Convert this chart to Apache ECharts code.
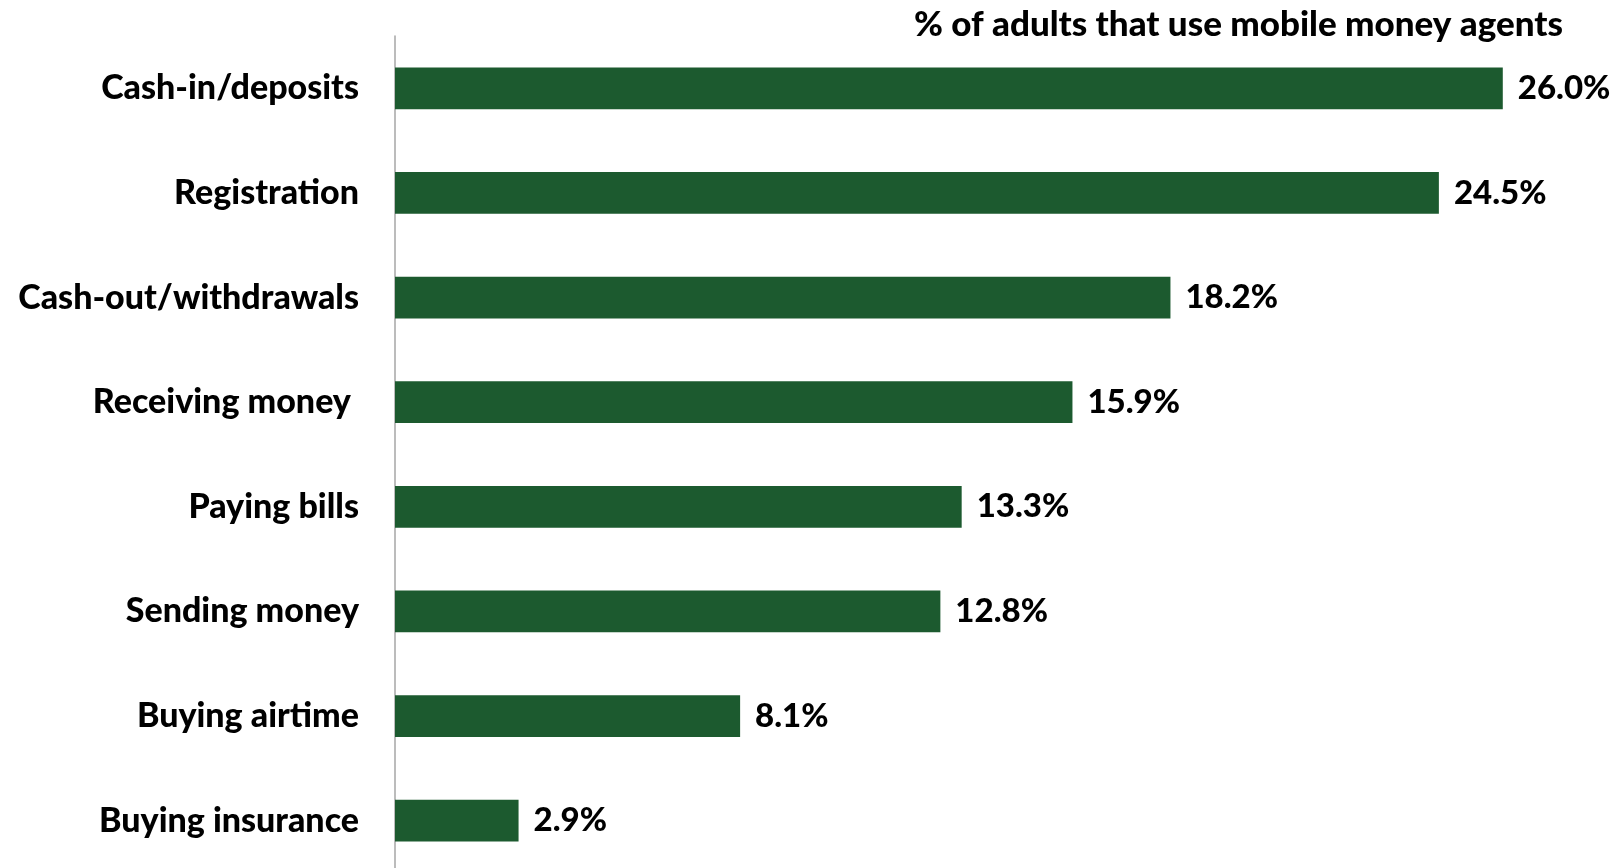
<!doctype html>
<html>
    <head>
        <meta charset="utf-8">
        <style>
            html, body { margin: 0; padding: 0; background: #fff; overflow: hidden; }
            #main { width: 1624px; height: 880px; }
        </style>
    </head>
    <body>
        <div id="main"></div>
        <script src="https://cdn.jsdelivr.net/npm/echarts@6/dist/echarts.min.js"></script>
        <script>
            var categories = ['Cash-in/deposits', 'Registration', 'Cash-out/withdrawals', 'Receiving money ',
                'Paying bills', 'Sending money', 'Buying airtime', 'Buying insurance'];
            var values = [26.0, 24.5, 18.2, 15.9, 13.3, 12.8, 8.1, 2.9];
            var titleText = '% of adults that use mobile money agents';

            var FONT = 'Lato';
            // the plot runs a little past the bottom edge of the window, as in the original
            var chart = echarts.init(document.getElementById('main'));

            chart.setOption({
                animation: false,
                title: {
                    text: titleText,
                    right: 56,
                    top: 2,
                    textStyle: {fontFamily: FONT, fontWeight: 900, fontSize: 35, color: '#000'}
                },
                grid: {
                    left: 395, top: 36, width: 1193, height: 837
                },
                xAxis: {
                    type: 'value',
                    show: false,
                    min: 0,
                    max: 28
                },
                yAxis: {
                    type: 'category',
                    inverse: true,
                    data: categories,
                    axisTick: {show: false},
                    axisLine: {lineStyle: {color: '#a6a6a6', width: 1.5}},
                    axisLabel: {
                        margin: 36,
                        fontFamily: FONT,
                        fontWeight: 900,
                        fontSize: 34,
                        color: '#000'
                    }
                },
                series: [{
                    type: 'bar',
                    data: values,
                    barCategoryGap: '60%',
                    itemStyle: {color: '#1c5a2f'},
                    label: {
                        show: true,
                        position: 'right',
                        distance: 15,
                        fontFamily: FONT,
                        fontWeight: 900,
                        fontSize: 33,
                        color: '#000',
                        formatter: function (p) { return p.value.toFixed(1) + '%'; }
                    }
                }]
            });

            window.addEventListener('resize', function () {
                chart.resize();
            });
        </script>
    </body>
</html>
